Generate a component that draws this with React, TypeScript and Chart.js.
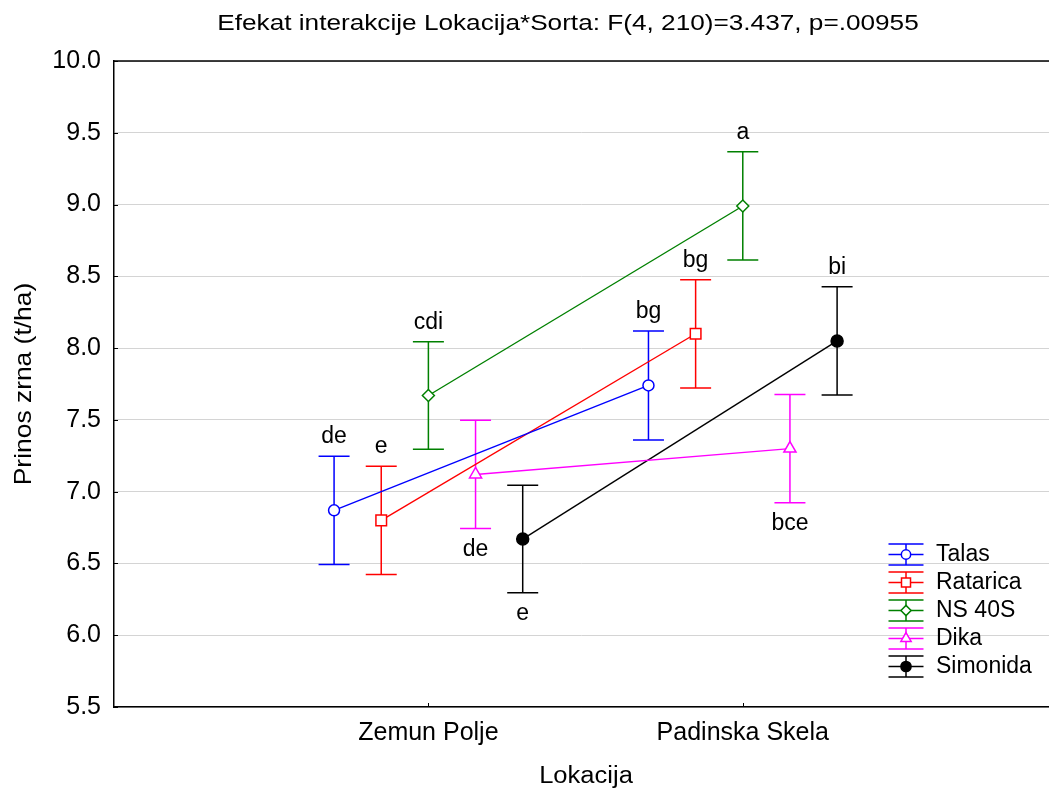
import React, { useEffect, useRef } from 'react';
import { Chart, registerables } from 'chart.js';
import { drawPoint } from 'chart.js/helpers';

Chart.register(...registerables);

// ---- data ----
const titleText = 'Efekat interakcije Lokacija*Sorta: F(4, 210)=3.437, p=.00955';
const xAxisTitle = 'Lokacija';
const yAxisTitle = 'Prinos zrna (t/ha)';

const locations = ['Zemun Polje', 'Padinska Skela'];
const locationX = [1, 2];

const seriesNames = ['Talas', 'Ratarica', 'NS 40S', 'Dika', 'Simonida'];
const seriesColors = ['#0000ff', '#ff0000', '#008000', '#ff00ff', '#000000'];
const seriesOffsets = [-0.3, -0.15, 0, 0.15, 0.3];
const seriesPointStyles = ['circle', 'rect', 'rectRot', 'triangle', 'circle'];
const seriesPointRadius = [5.5, 7.5, 6, 7, 6];
const seriesFilled = [false, false, false, false, true];

const talasMean = [6.87, 7.74];
const rataricaMean = [6.80, 8.10];
const ns40sMean = [7.67, 8.99];
const dikaMean = [7.12, 7.30];
const simonidaMean = [6.67, 8.05];

const talasCI = [0.377, 0.38];
const rataricaCI = [0.377, 0.377];
const ns40sCI = [0.374, 0.377];
const dikaCI = [0.377, 0.377];
const simonidaCI = [0.374, 0.377];

const talasLetters = ['de', 'bg'];
const rataricaLetters = ['e', 'bg'];
const ns40sLetters = ['cdi', 'a'];
const dikaLetters = ['de', 'bce'];
const simonidaLetters = ['e', 'bi'];

const talasSide = ['above', 'above'];
const rataricaSide = ['above', 'above'];
const ns40sSide = ['above', 'above'];
const dikaSide = ['below', 'below'];
const simonidaSide = ['below', 'above'];

const yMin = 5.5;
const yMax = 10;
const yStep = 0.5;

const allMeans = [talasMean, rataricaMean, ns40sMean, dikaMean, simonidaMean];
const allCI = [talasCI, rataricaCI, ns40sCI, dikaCI, simonidaCI];
const allLetters = [talasLetters, rataricaLetters, ns40sLetters, dikaLetters, simonidaLetters];
const allSides = [talasSide, rataricaSide, ns40sSide, dikaSide, simonidaSide];

// ---- styles ----
const FONT = '"Liberation Sans", Arial, Helvetica, sans-serif';
const CAP = 15.5;

const plotPlugin = {
  id: 'statPlot',
  beforeDatasetsDraw(chart: any) {
    const { ctx } = chart;
    const x = chart.scales.x;
    const y = chart.scales.y;
    chart.data.datasets.forEach((ds: any) => {
      ctx.save();
      ctx.strokeStyle = ds.borderColor;
      ctx.lineWidth = 1.5;
      ds.data.forEach((pt: any, i: number) => {
        const px = x.getPixelForValue(pt.x);
        const yt = y.getPixelForValue(pt.y + ds.ci[i]);
        const yb = y.getPixelForValue(pt.y - ds.ci[i]);
        ctx.beginPath();
        ctx.moveTo(px, yt);
        ctx.lineTo(px, yb);
        ctx.moveTo(px - CAP, yt);
        ctx.lineTo(px + CAP, yt);
        ctx.moveTo(px - CAP, yb);
        ctx.lineTo(px + CAP, yb);
        ctx.stroke();
      });
      ctx.restore();
    });
  },
  afterDatasetsDraw(chart: any) {
    const { ctx } = chart;
    const x = chart.scales.x;
    const y = chart.scales.y;
    ctx.save();
    ctx.font = `23px ${FONT}`;
    ctx.fillStyle = '#000';
    ctx.textAlign = 'center';
    ctx.textBaseline = 'alphabetic';
    chart.data.datasets.forEach((ds: any) => {
      ds.data.forEach((pt: any, i: number) => {
        const px = x.getPixelForValue(pt.x);
        if (ds.sides[i] === 'above') {
          const yt = y.getPixelForValue(pt.y + ds.ci[i]);
          ctx.fillText(ds.letters[i], px, yt - 13);
        } else {
          const yb = y.getPixelForValue(pt.y - ds.ci[i]);
          ctx.fillText(ds.letters[i], px, yb + 27);
        }
      });
    });
    ctx.restore();
  },
  afterDraw(chart: any) {
    const { ctx, chartArea } = chart;
    const x = chart.scales.x;
    const y = chart.scales.y;
    ctx.save();
    // top frame line
    ctx.strokeStyle = '#000';
    ctx.lineWidth = 1.5;
    ctx.beginPath();
    ctx.moveTo(chartArea.left, chartArea.top);
    ctx.lineTo(chartArea.right, chartArea.top);
    ctx.stroke();
    // inward tick marks
    ctx.lineWidth = 1;
    ctx.beginPath();
    y.ticks.forEach((t: any) => {
      const py = Math.round(y.getPixelForValue(t.value)) + 0.5;
      ctx.moveTo(chartArea.left, py);
      ctx.lineTo(chartArea.left + 4, py);
    });
    x.ticks.forEach((t: any) => {
      const px = Math.round(x.getPixelForValue(t.value)) + 0.5;
      ctx.moveTo(px, chartArea.bottom);
      ctx.lineTo(px, chartArea.bottom - 4);
    });
    ctx.stroke();

    // legend
    const lx = chartArea.right - 143;
    const tx = chartArea.right - 113;
    const ly0 = chartArea.bottom - 152.5;
    ctx.font = `23px ${FONT}`;
    ctx.textAlign = 'left';
    ctx.textBaseline = 'middle';
    chart.data.datasets.forEach((ds: any, i: number) => {
      const cy = ly0 + i * 28;
      ctx.strokeStyle = ds.borderColor;
      ctx.lineWidth = 1.5;
      ctx.beginPath();
      ctx.moveTo(lx, cy - 10.5);
      ctx.lineTo(lx, cy + 10.5);
      [-10.5, 0, 10.5].forEach((d) => {
        ctx.moveTo(lx - 17.5, cy + d);
        ctx.lineTo(lx + 17.5, cy + d);
      });
      ctx.stroke();
      ctx.fillStyle = ds.pointBackgroundColor;
      ctx.strokeStyle = ds.borderColor;
      ctx.lineWidth = 1.5;
      drawPoint(ctx, { pointStyle: ds.pointStyle, radius: ds.pointRadius * 0.85, rotation: 0, borderWidth: 1.5 }, lx, cy);
      ctx.fillStyle = '#000';
      ctx.fillText(ds.label, tx, cy);
    });

    // title
    ctx.fillStyle = '#000';
    ctx.textAlign = 'center';
    ctx.textBaseline = 'alphabetic';
    ctx.save();
    ctx.translate(568, 30);
    ctx.scale(1.19, 1);
    ctx.font = `22px ${FONT}`;
    ctx.fillText(titleText, 0, 0);
    ctx.restore();
    // x axis title
    ctx.save();
    ctx.translate(586, 783);
    ctx.scale(1.11, 1);
    ctx.font = `23px ${FONT}`;
    ctx.fillText(xAxisTitle, 0, 0);
    ctx.restore();
    // y axis title
    ctx.save();
    ctx.translate(31, (chartArea.top + chartArea.bottom) / 2);
    ctx.rotate(-Math.PI / 2);
    ctx.scale(1.1, 1);
    ctx.font = `24px ${FONT}`;
    ctx.fillText(yAxisTitle, 0, 0);
    ctx.restore();
    ctx.restore();
  },
};

export default function App() {
  const ref = useRef<HTMLCanvasElement>(null);
  useEffect(() => {
    const datasets = seriesNames.map((name, s) => ({
      label: name,
      data: locationX.map((lx, i) => ({ x: lx + seriesOffsets[s], y: allMeans[s][i] })),
      ci: allCI[s],
      letters: allLetters[s],
      sides: allSides[s],
      borderColor: seriesColors[s],
      backgroundColor: seriesColors[s],
      borderWidth: 1.4,
      pointStyle: seriesPointStyles[s],
      pointRadius: seriesPointRadius[s],
      pointBorderWidth: 1.5,
      pointBorderColor: seriesColors[s],
      pointBackgroundColor: seriesFilled[s] ? seriesColors[s] : '#ffffff',
      fill: false,
      tension: 0,
    }));
    const chart = new Chart(ref.current as HTMLCanvasElement, {
      type: 'line',
      data: { datasets } as any,
      options: {
        animation: false,
        responsive: false,
        devicePixelRatio: 1,
        layout: { autoPadding: false, padding: { top: 61, left: 0, right: 0, bottom: 0 } },
        plugins: { legend: { display: false }, tooltip: { enabled: false }, title: { display: false } },
        scales: {
          x: {
            type: 'linear',
            min: 0,
            max: 2.974,
            afterBuildTicks: (s: any) => {
              s.ticks = locationX.map((v) => ({ value: v }));
            },
            afterFit: (s: any) => {
              s.height = 84;
              s.paddingLeft = 0;
              s.paddingRight = 0;
            },
            ticks: {
              autoSkip: false,
              maxRotation: 0,
              padding: 11,
              color: '#000',
              font: { family: FONT, size: 25 },
              callback: (_v: any, i: number) => locations[i],
            },
            grid: { display: false, drawTicks: false },
            border: { display: true, color: '#000', width: 1.5 },
          },
          y: {
            min: yMin,
            max: yMax,
            afterFit: (s: any) => {
              s.width = 114;
              s.paddingLeft = 0;
              s.paddingRight = 0;
            },
            ticks: {
              stepSize: yStep,
              padding: 13,
              color: '#000',
              font: { family: FONT, size: 25 },
              callback: (v: any) => Number(v).toFixed(1),
            },
            grid: { color: '#d4d4d4', lineWidth: 1, drawTicks: false },
            border: { display: true, color: '#000', width: 1.5 },
          },
        },
      } as any,
      plugins: [plotPlugin],
    });
    return () => chart.destroy();
  }, []);
  return (
    <div style={{ position: 'fixed', left: 0, top: 0, width: 1049, height: 791, background: '#ffffff' }}>
      <canvas ref={ref} width={1049} height={791} style={{ display: 'block' }} />
    </div>
  );
}
